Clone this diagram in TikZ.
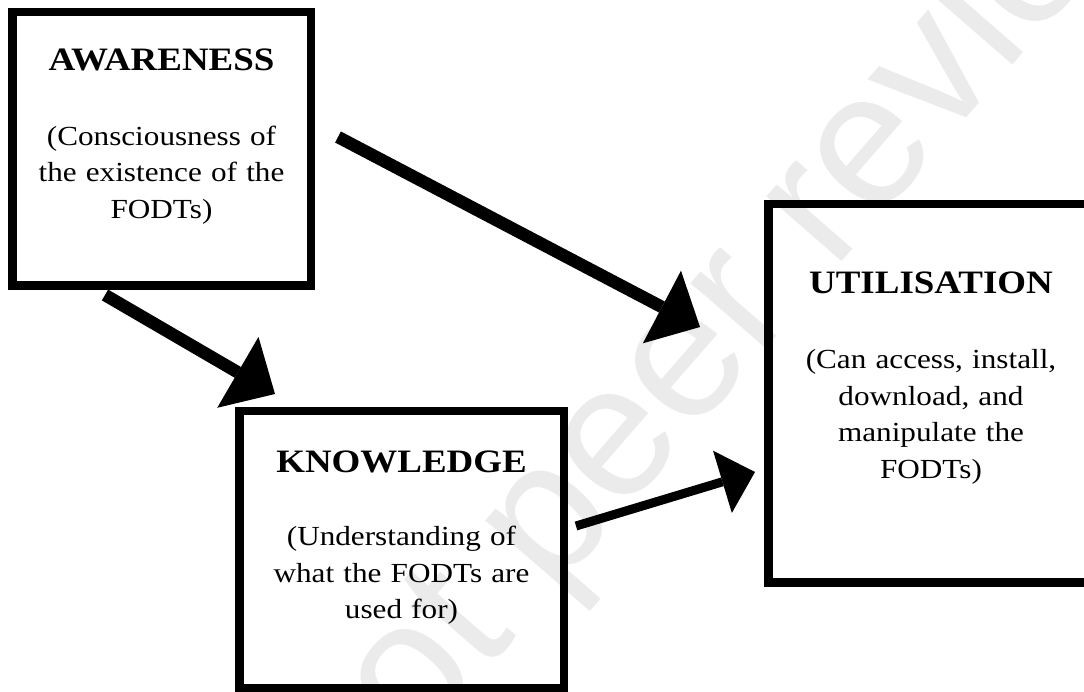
\documentclass[tikz,border=0pt]{standalone}
\usepackage{fontspec}
\setmainfont{Liberation Serif}
\newfontfamily\diagfont{Liberation Serif}[FakeStretch=1.13]
\newfontfamily\wmfont{Liberation Sans}
\usetikzlibrary{arrows.meta}
\tikzset{
  stagebox/.style={draw=black, line width=8.5pt, rectangle, inner sep=0pt},
  stagetext/.style={anchor=north, inner sep=0pt, text width=320pt, align=center,
    font=\diagfont\fontsize{27.6pt}{36.7pt}\selectfont},
  bigarrow/.style={line width=12.5pt, -{Triangle[length=43pt,width=82pt,line width=0pt]}},
  smallarrow/.style={line width=9pt, -{Triangle[length=34pt,width=65pt,line width=0pt]}},
  watermark/.style={text=black!8, font=\wmfont\fontsize{188pt}{200pt}\selectfont, inner sep=0pt}
}
\newcommand{\headline}[1]{{\fontsize{32.7pt}{36.7pt}\selectfont\bfseries #1}}
\begin{document}
\begin{tikzpicture}[x=1pt, y=-1pt]
\useasboundingbox (0,0) rectangle (1084,692);
\clip (0,0) rectangle (1084,692);
\fill[white] (0,0) rectangle (1084,692);
% watermark
\node[watermark, rotate=49] (wm) at (800,236) {not peer reviewed};
% boxes
\node[stagebox, minimum width=298.5pt, minimum height=273.5pt] (aw) at (161.5,149) {};
\node[stagebox, minimum width=324.5pt, minimum height=276.75pt] (kn) at (401.5,549.6) {};
\node[stagebox, minimum width=325pt, minimum height=378.5pt] (ut) at (931,393.25) {};
% texts
\node[stagetext] (awt) at (161.5,48.3) {\headline{AWARENESS}\\[38.3pt](Consciousness of\\the existence of the\\FODTs)};
\node[stagetext] (knt) at (401.5,451) {\headline{KNOWLEDGE}\\[36pt](Understanding of\\what the FODTs are\\used for)};
\node[stagetext] (utt) at (931,271.7) {\headline{UTILISATION}\\[38.3pt](Can access, install,\\download, and\\manipulate the\\FODTs)};
% arrows
\coordinate (a1s) at (338,137);
\coordinate (a1e) at (700,327);
\coordinate (a2s) at (105,295);
\coordinate (a2e) at (275,394);
\coordinate (a3s) at (576,526);
\coordinate (a3e) at (755,472);
\draw[bigarrow] (a1s) -- (a1e);
\draw[bigarrow] (a2s) -- (a2e);
\draw[smallarrow] (a3s) -- (a3e);
\end{tikzpicture}
\end{document}
